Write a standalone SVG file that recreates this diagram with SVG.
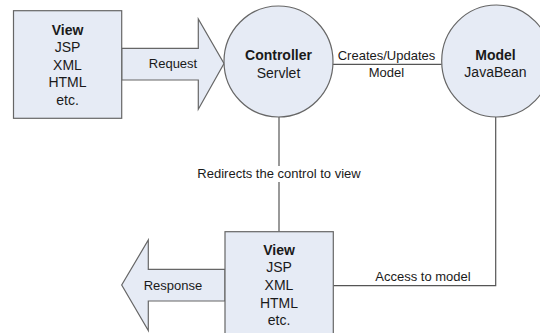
<svg xmlns="http://www.w3.org/2000/svg" width="540" height="333" viewBox="0 0 540 333">
<style>
.shape{fill:#e6ebf5;stroke:#666;stroke-width:1.2}
.line{fill:none;stroke:#555;stroke-width:1.2}
text{font-family:"Liberation Sans",Arial,sans-serif;fill:#1a1a1a;text-anchor:middle}
.t14{font-size:14px}
.b{font-weight:bold}
.t13{font-size:13px}
</style>
<rect width="540" height="333" fill="#fff"/>
<g id="connectors">
<line class="line" x1="333" y1="64.3" x2="441.7" y2="64.3"/>
<line class="line" x1="279" y1="117" x2="279" y2="231.7"/>
<polyline class="line" points="333.3,285.7 495.7,285.7 495.7,117"/>
<rect x="194" y="166" width="170" height="16" fill="#fff"/>
<text class="t13" x="279" y="177.5">Redirects the control to view</text>
<text class="t13" x="386.5" y="60">Creates/Updates</text>
<text class="t13" x="386.5" y="76.5">Model</text>
<text class="t13" x="423" y="281">Access to model</text>
</g>
<g id="request">
<polygon class="shape" points="121.7,48.3 198.3,48.3 198.3,19 224,63.5 198.3,109.3 198.3,80 121.7,80"/>
<text class="t13" x="173" y="68">Request</text>
</g>
<g id="response">
<polygon class="shape" points="225,269.3 148.3,269.3 148.3,240 121.7,285 148.3,330.5 148.3,301 225,301"/>
<text class="t13" x="173" y="289.5">Response</text>
</g>
<g id="view-top">
<rect class="shape" x="13.5" y="10.7" width="108.2" height="107.6"/>
<text class="t14 b" x="67.5" y="34.5">View</text>
<text class="t14" x="67.5" y="52">JSP</text>
<text class="t14" x="67.5" y="69.5">XML</text>
<text class="t14" x="67.5" y="87">HTML</text>
<text class="t14" x="67.5" y="104.5">etc.</text>
</g>
<g id="controller">
<ellipse class="shape" cx="278.5" cy="61.5" rx="54.5" ry="55.5"/>
<text class="t14 b" x="278.5" y="60">Controller</text>
<text class="t14" x="278.5" y="77.5">Servlet</text>
</g>
<g id="model">
<ellipse class="shape" cx="496.5" cy="61" rx="54.8" ry="56"/>
<text class="t14 b" x="495.5" y="60">Model</text>
<text class="t14" x="495.5" y="77">JavaBean</text>
</g>
<g id="view-bottom">
<rect class="shape" x="225" y="231.7" width="108.3" height="110"/>
<text class="t14 b" x="279" y="255">View</text>
<text class="t14" x="279" y="272">JSP</text>
<text class="t14" x="279" y="290">XML</text>
<text class="t14" x="279" y="307.5">HTML</text>
<text class="t14" x="279" y="325">etc.</text>
</g>
</svg>
